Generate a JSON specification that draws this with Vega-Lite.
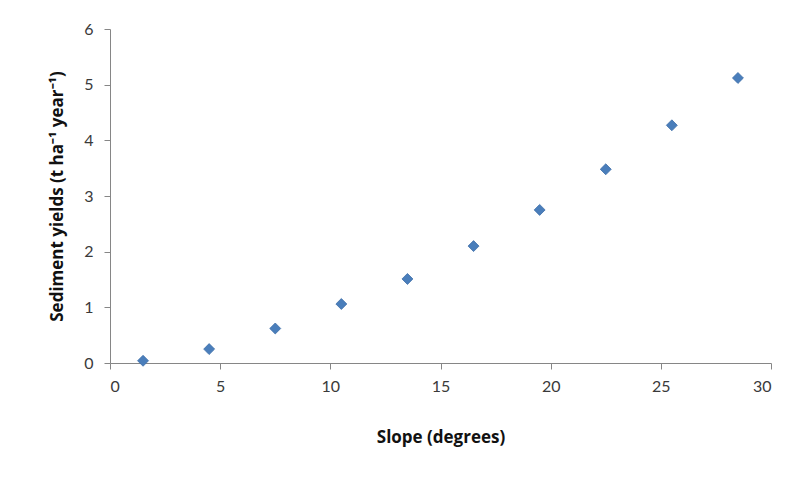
{
  "$schema": "https://vega.github.io/schema/vega-lite/v6.json",
  "width": 661,
  "height": 334,
  "autosize": "none",
  "padding": {"left": 110, "top": 29, "right": 27, "bottom": 114},
  "background": "#ffffff",
  "config": {
    "view": {"stroke": null},
    "font": "Lato",
    "axis": {
      "grid": false,
      "domainColor": "#868686",
      "tickColor": "#868686",
      "tickSize": 6,
      "labelFont": "Lato",
      "labelFontSize": 16,
      "labelColor": "#3a3a3a",
      "titleFont": "Open Sans",
      "titleFontSize": 17,
      "titleFontWeight": "bold",
      "titleColor": "#111111"
    }
  },
  "data": {
    "values": [
      {"slope": 1.5, "yield": 0.04},
      {"slope": 4.5, "yield": 0.25},
      {"slope": 7.5, "yield": 0.62},
      {"slope": 10.5, "yield": 1.06},
      {"slope": 13.5, "yield": 1.51},
      {"slope": 16.5, "yield": 2.1},
      {"slope": 19.5, "yield": 2.75},
      {"slope": 22.5, "yield": 3.48},
      {"slope": 25.5, "yield": 4.27},
      {"slope": 28.5, "yield": 5.12}
    ]
  },
  "mark": {"type": "point", "shape": "diamond", "filled": true, "size": 120, "color": "#4A7EBB", "opacity": 1, "stroke": "#3F6FA8", "strokeWidth": 0.8},
  "encoding": {
    "x": {
      "field": "slope",
      "type": "quantitative",
      "scale": {"domain": [0, 30], "nice": false, "zero": false},
      "axis": {"values": [0, 5, 10, 15, 20, 25, 30], "title": "Slope (degrees)", "labelPadding": 9, "titlePadding": 35}
    },
    "y": {
      "field": "yield",
      "type": "quantitative",
      "scale": {"domain": [0, 6], "nice": false},
      "axis": {"values": [0, 1, 2, 3, 4, 5, 6], "title": "Sediment yields (t ha⁻¹ year⁻¹)", "labelPadding": 11, "titlePadding": 17}
    }
  }
}
